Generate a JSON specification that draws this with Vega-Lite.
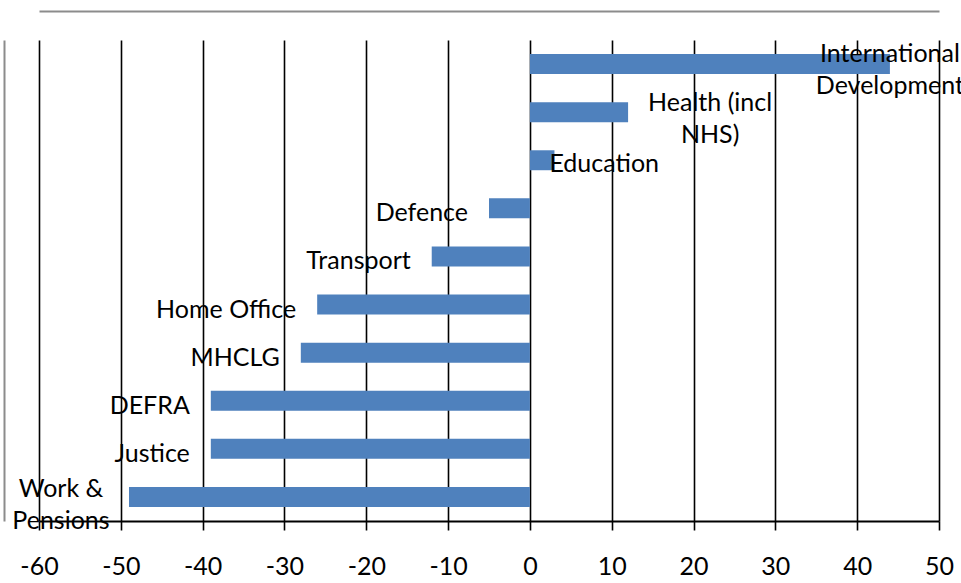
{
  "$schema": "https://vega.github.io/schema/vega-lite/v6.json",
  "width": 900,
  "height": 481,
  "autosize": {"type": "none"},
  "padding": {"left": 39, "top": 40, "right": 22, "bottom": 62},
  "background": "white",
  "data": {
    "values": [
      {"dept": "International Development", "label": "International\nDevelopment", "value": 44},
      {"dept": "Health (incl NHS)", "label": "Health (incl\nNHS)", "value": 12},
      {"dept": "Education", "label": "Education", "value": 3},
      {"dept": "Defence", "label": "Defence", "value": -5},
      {"dept": "Transport", "label": "Transport", "value": -12},
      {"dept": "Home Office", "label": "Home Office", "value": -26},
      {"dept": "MHCLG", "label": "MHCLG", "value": -28},
      {"dept": "DEFRA", "label": "DEFRA", "value": -39},
      {"dept": "Justice", "label": "Justice", "value": -39},
      {"dept": "Work & Pensions", "label": "Work &\nPensions", "value": -49}
    ]
  },
  "config": {
    "view": {"stroke": null},
    "font": "Lato",
    "text": {"font": "Lato", "fontSize": 25, "color": "black", "lineBreak": "\n", "lineHeight": 32, "baseline": "middle"},
    "axisY": {"labels": false, "ticks": false, "grid": false, "title": null, "domainColor": "#8c8c8c", "domainWidth": 2, "offset": 35}
  },
  "resolve": {"axis": {"x": "independent"}},
  "encoding": {
    "y": {"field": "dept", "type": "nominal", "sort": null,
          "scale": {"paddingInner": 0.585, "paddingOuter": 0.2925}},
    "x": {"field": "value", "type": "quantitative",
          "scale": {"domain": [-60, 50], "nice": false, "zero": false}}
  },
  "layer": [
    {
      "mark": {"type": "bar", "color": "#4F81BD"},
      "encoding": {
        "x": {"field": "value", "type": "quantitative",
              "axis": {"orient": "bottom", "values": [-60,-50,-40,-30,-20,-10,0,10,20,30,40,50],
                       "labelExpr": "toString(datum.value)",
                       "grid": true, "gridColor": "black", "gridWidth": 1.6, "gridOpacity": 1,
                       "domainColor": "black", "domainWidth": 2, "tickColor": "black", "tickWidth": 1.6, "tickSize": 9,
                       "labelFont": "Lato", "labelFontSize": 25, "labelColor": "black", "labelPadding": 36,
                       "labelBaseline": "middle", "labelFlush": false, "labelOverlap": false, "title": null}},
        "x2": {"datum": 0}
      }
    },
    {
      "transform": [{"filter": "datum.value < 0 && datum.dept !== 'Work & Pensions'"}],
      "mark": {"type": "text", "align": "right", "dx": -21, "dy": 5},
      "encoding": {
        "text": {"field": "label"},
        "x": {"field": "value", "type": "quantitative",
              "axis": {"orient": "top", "offset": 29, "labels": false, "ticks": false, "grid": false,
                       "domainColor": "#8c8c8c", "domainWidth": 2, "title": null}}
      }
    },
    {
      "transform": [{"filter": "datum.dept === 'Work & Pensions'"}],
      "mark": {"type": "text", "align": "center", "dx": -68, "dy": -8},
      "encoding": {
        "text": {"field": "label"},
        "x": {"field": "value", "type": "quantitative", "axis": null}
      }
    },
    {
      "transform": [{"filter": "datum.dept === 'Education'"}],
      "mark": {"type": "text", "align": "left", "dx": -5, "dy": 4},
      "encoding": {
        "text": {"field": "label"},
        "x": {"field": "value", "type": "quantitative", "axis": null}
      }
    },
    {
      "transform": [{"filter": "datum.dept === 'Health (incl NHS)'"}],
      "mark": {"type": "text", "align": "center", "dx": 82, "dy": -9},
      "encoding": {
        "text": {"field": "label"},
        "x": {"field": "value", "type": "quantitative", "axis": null}
      }
    },
    {
      "transform": [{"filter": "datum.dept === 'International Development'"}],
      "mark": {"type": "text", "align": "center", "dx": 0, "dy": -10},
      "encoding": {
        "text": {"field": "label"},
        "x": {"field": "value", "type": "quantitative", "axis": null}
      }
    }
  ]
}
